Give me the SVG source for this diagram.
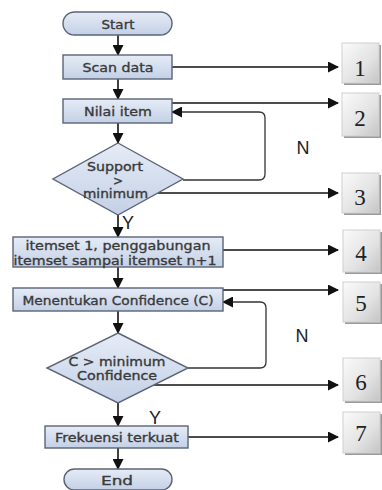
<svg xmlns="http://www.w3.org/2000/svg" width="382" height="490" viewBox="0 0 382 490">
<defs>
<linearGradient id="gBlue" x1="0" y1="0" x2="0" y2="1">
<stop offset="0" stop-color="#e6ecf6"/>
<stop offset="1" stop-color="#c3d0e6"/>
</linearGradient>
<linearGradient id="gGray" x1="0" y1="0" x2="1" y2="1">
<stop offset="0" stop-color="#fbfbfb"/>
<stop offset="0.6" stop-color="#e2e2e2"/>
<stop offset="1" stop-color="#c4c4c4"/>
</linearGradient>
<marker id="ah" markerWidth="11" markerHeight="11" refX="10" refY="5.5" orient="auto" markerUnits="userSpaceOnUse">
<path d="M0,0 L11,5.5 L0,11 Z" fill="#111"/>
</marker>
</defs>
<style>
.shape{fill:url(#gBlue);stroke:#5b6477;stroke-width:1.4}
.t{font-family:"DejaVu Sans","Liberation Sans",Arial,sans-serif;font-size:13px;fill:#3a3a3a;stroke:#3a3a3a;stroke-width:0.35;text-anchor:middle}
.d{font-size:12px}
.yn{font-family:"Liberation Sans",Arial,sans-serif;font-size:18px;fill:#222;text-anchor:middle}
.num{font-family:"Liberation Serif","Times New Roman",serif;font-size:23px;fill:#222;text-anchor:middle}
.nb{fill:url(#gGray);stroke:#d0d0d0;stroke-width:1}
.sh{fill:#9a9a9a}
.c{fill:none;stroke:#111;stroke-width:1.6}
</style>

<g id="connectors">
<path class="c" d="M118,35 V55" marker-end="url(#ah)"/>
<path class="c" d="M118,79 V99" marker-end="url(#ah)"/>
<path class="c" d="M118,123 V143" marker-end="url(#ah)"/>
<path class="c" d="M118,215 V237" marker-end="url(#ah)"/>
<path class="c" d="M118,267 V288" marker-end="url(#ah)"/>
<path class="c" d="M118,311 V333" marker-end="url(#ah)"/>
<path class="c" d="M118,403 V426" marker-end="url(#ah)"/>
<path class="c" d="M118,448 V469" marker-end="url(#ah)"/>
<path class="c" d="M183,180 H259 Q265,180 265,174 V118 Q265,112 259,112 H172" marker-end="url(#ah)" style="stroke:#333;stroke-width:1.3"/>
<path class="c" d="M188,368 H260 Q266,368 266,362 V308 Q266,302 260,302 H223" marker-end="url(#ah)" style="stroke:#333;stroke-width:1.3"/>
<path class="c" d="M172,67 H338" marker-end="url(#ah)"/>
<path class="c" d="M172,103 H338" marker-end="url(#ah)"/>
<path class="c" d="M158,193 H338" marker-end="url(#ah)"/>
<path class="c" d="M223,250 H338" marker-end="url(#ah)"/>
<path class="c" d="M223,290 H338" marker-end="url(#ah)"/>
<path class="c" d="M154,385 H338" marker-end="url(#ah)"/>
<path class="c" d="M188,437 H338" marker-end="url(#ah)"/>
<text class="yn" x="303" y="154">N</text>
<text class="yn" x="302" y="342">N</text>
<text class="yn" x="128" y="229">Y</text>
<text class="yn" x="155" y="424">Y</text>
</g>

<g id="start">
<rect class="shape" x="63" y="12" width="109" height="23" rx="11.5"/>
<text class="t" x="118" y="28.5" textLength="33" lengthAdjust="spacingAndGlyphs">Start</text>
</g>
<g id="scan">
<rect class="shape" x="63" y="55" width="109" height="24"/>
<text class="t" x="118" y="72" textLength="71" lengthAdjust="spacingAndGlyphs">Scan data</text>
</g>
<g id="nilai">
<rect class="shape" x="63" y="99" width="109" height="24"/>
<text class="t" x="118" y="116" textLength="68" lengthAdjust="spacingAndGlyphs">Nilai item</text>
</g>
<g id="support">
<polygon class="shape" points="118,143 183,179 118,215 53,179"/>
<text class="t d" x="115" y="171" textLength="56" lengthAdjust="spacingAndGlyphs">Support</text>
<text class="t d" x="118" y="184.5">&gt;</text>
<text class="t d" x="115.5" y="197.5" textLength="65" lengthAdjust="spacingAndGlyphs">minimum</text>
</g>
<g id="itemset">
<rect class="shape" x="13" y="237" width="210" height="30"/>
<text class="t" x="118" y="250" textLength="185" lengthAdjust="spacingAndGlyphs">itemset 1, penggabungan</text>
<text class="t" x="115" y="264.5" textLength="203" lengthAdjust="spacingAndGlyphs">itemset sampai itemset n+1</text>
</g>
<g id="confidence">
<rect class="shape" x="13" y="288" width="210" height="23"/>
<text class="t" x="118" y="304.5" textLength="191" lengthAdjust="spacingAndGlyphs">Menentukan Confidence (C)</text>
</g>
<g id="cmin">
<polygon class="shape" points="118,333 188,368 118,403 47,368"/>
<text class="t d" x="117" y="365.5" textLength="97" lengthAdjust="spacingAndGlyphs">C &gt; minimum</text>
<text class="t d" x="117" y="380" textLength="80" lengthAdjust="spacingAndGlyphs">Confidence</text>
</g>
<g id="frekuensi">
<rect class="shape" x="45" y="426" width="143" height="22"/>
<text class="t" x="117" y="441.5" textLength="124" lengthAdjust="spacingAndGlyphs">Frekuensi terkuat</text>
</g>
<g id="end">
<rect class="shape" x="64" y="469" width="108" height="21" rx="10.5"/>
<text class="t" x="117" y="484.5" textLength="32" lengthAdjust="spacingAndGlyphs">End</text>
</g>

<g id="n1"><rect class="sh" x="344" y="45" width="37" height="40"/><rect class="nb" x="342" y="43" width="37" height="40"/><text class="num" x="360" y="76">1</text></g>
<g id="n2"><rect class="sh" x="344" y="95" width="37" height="43"/><rect class="nb" x="342" y="93" width="37" height="43"/><text class="num" x="360" y="126">2</text></g>
<g id="n3"><rect class="sh" x="344" y="175" width="37" height="40"/><rect class="nb" x="342" y="173" width="37" height="40"/><text class="num" x="360" y="205">3</text></g>
<g id="n4"><rect class="sh" x="345" y="232" width="37" height="42"/><rect class="nb" x="343" y="230" width="37" height="42"/><text class="num" x="361" y="261">4</text></g>
<g id="n5"><rect class="sh" x="345" y="284" width="37" height="40"/><rect class="nb" x="343" y="282" width="37" height="40"/><text class="num" x="361" y="311">5</text></g>
<g id="n6"><rect class="sh" x="345" y="360" width="37" height="43"/><rect class="nb" x="343" y="358" width="37" height="43"/><text class="num" x="361" y="390">6</text></g>
<g id="n7"><rect class="sh" x="345" y="414" width="37" height="41"/><rect class="nb" x="343" y="412" width="37" height="41"/><text class="num" x="361" y="441">7</text></g>
</svg>
